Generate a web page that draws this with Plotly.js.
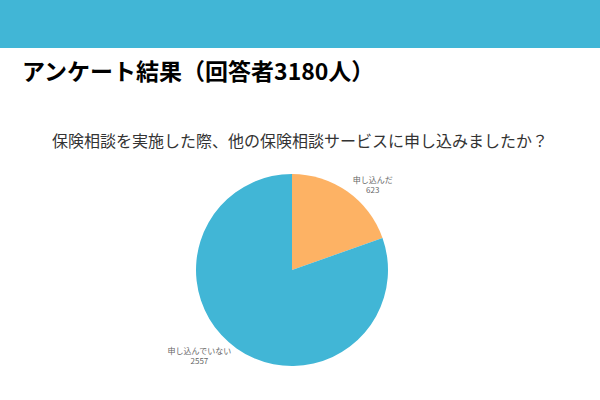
<!DOCTYPE html>
<html>
<head>
<meta charset="utf-8">
<script src="https://cdn.plot.ly/plotly-3.0.1.min.js"></script>
<style>
  html, body { margin: 0; padding: 0; background: #fff; }
  #chart { width: 600px; height: 400px; }
</style>
</head>
<body>
<div id="chart"></div>
<script>
var answers = ['申し込んだ', '申し込んでいない'];
var counts = [623, 2557];
var sliceColors = ['#fdb264', '#41b6d6'];

var pageTitle = 'アンケート結果（回答者3180人）';
var question = '保険相談を実施した際、他の保険相談サービスに申し込みましたか？';

var font = 'Noto Sans CJK JP, Noto Sans, sans-serif';

var data = [{
    type: 'pie',
    labels: answers,
    values: counts,
    sort: false,
    direction: 'clockwise',
    rotation: 0,
    marker: { colors: sliceColors },
    textinfo: 'label+value',
    textposition: 'outside',
    outsidetextfont: { family: font, size: 8, color: '#666' },
    hoverinfo: 'none',
    showlegend: false,
    domain: { x: [196 / 600, 388 / 600], y: [34 / 400, 226 / 400] }
}];

var layout = {
    width: 600,
    height: 400,
    margin: { l: 0, r: 0, t: 0, b: 0 },
    paper_bgcolor: '#fff',
    font: { family: font },
    title: {
        text: '<b>' + pageTitle + '</b>',
        x: 22 / 600,
        xanchor: 'left',
        xref: 'paper',
        y: 1 - 72 / 400,
        yanchor: 'middle',
        yref: 'container',
        font: { family: font, size: 23, color: '#000' }
    },
    shapes: [{
        type: 'rect', xref: 'paper', yref: 'paper',
        x0: 0, x1: 1, y0: 1 - 48 / 400, y1: 1,
        fillcolor: '#41b6d6', line: { width: 0 }
    }],
    annotations: [{
        text: question,
        xref: 'paper', yref: 'paper',
        x: 0.5, y: 1 - 140 / 400,
        xanchor: 'center', yanchor: 'middle',
        showarrow: false,
        font: { family: font, size: 16, color: '#333' }
    }]
};

Plotly.newPlot('chart', data, layout, { displayModeBar: false, staticPlot: true });
</script>
</body>
</html>
